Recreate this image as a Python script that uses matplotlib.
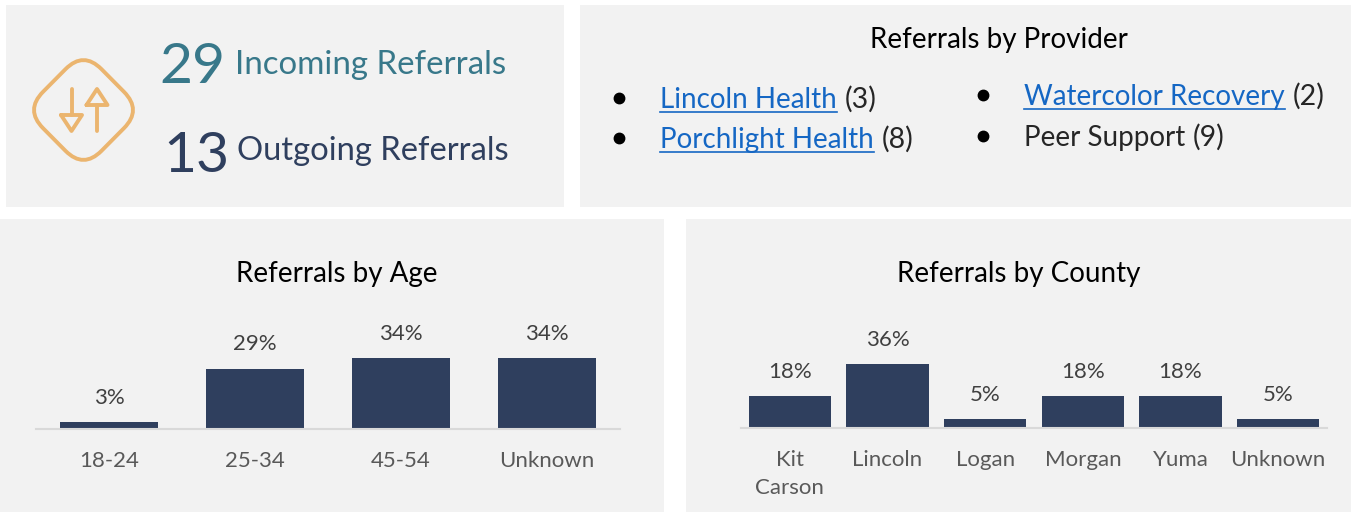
"""Referrals dashboard: KPI tiles, provider list and two percentage bar charts."""
import matplotlib
matplotlib.use("Agg")
import matplotlib.pyplot as plt
from matplotlib.patches import PathPatch, Rectangle
from matplotlib.path import Path

AGE_LABELS = ["18-24", "25-34", "45-54", "Unknown"]
AGE_VALUES = [3, 29, 34, 34]
COUNTY_LABELS = ["Kit\nCarson", "Lincoln", "Logan", "Morgan", "Yuma", "Unknown"]
COUNTY_VALUES = [18, 36, 5, 18, 18, 5]
INCOMING = 29
OUTGOING = 13
PROVIDERS = [("Lincoln Health", 3, True), ("Porchlight Health", 8, True),
             ("Watercolor Recovery", 2, True), ("Peer Support", 9, False)]

W, H = 1351, 512
PANEL = "#F2F2F2"
NAVY = "#2F3F5E"
TEAL = "#38788A"
GOLD = "#EBB56F"
LINK = "#1567C4"
INK = "#404040"
TICK = "#595959"
AXIS = "#D9D9D9"
FONT = "Lato"

plt.rcParams["font.family"] = [FONT, "DejaVu Sans"]


def bar_chart(fig, box, labels, values, width, px_per_pct):
    x0, x1, top, base = box
    ax = fig.add_axes([x0 / W, 1 - base / H, (x1 - x0) / W, (base - top) / H])
    ax.patch.set_visible(False)
    ax.bar(range(len(values)), values, width=width, color=NAVY)
    ax.set_xlim(-0.5, len(values) - 0.5)
    ax.set_ylim(0, (base - top) / px_per_pct)
    ax.set_xticks(range(len(values)), labels)
    ax.tick_params(axis="x", length=0, pad=16, labelsize=16, labelcolor=TICK)
    for label in ax.get_xticklabels():
        label.set_linespacing(1.5)
        label.set_va("top")
    ax.set_yticks([])
    for side in ("top", "left", "right"):
        ax.spines[side].set_visible(False)
    ax.spines["bottom"].set_color(AXIS)
    ax.spines["bottom"].set_linewidth(1.5)
    for i, v in enumerate(values):
        ax.annotate(f"{v}%", (i, v), xytext=(0, 17.5), textcoords="offset points",
                    ha="center", va="center", fontsize=16, color=INK)
    return ax


def draw_icon(ax):
    cx, cy, rx, ry, r = 83.5, 110, 58.5, 59, 18
    # rounded diamond, corners pulled in with quadratic curves
    frac = r / rx
    pts = [(cx, cy - ry), (cx + rx, cy), (cx, cy + ry), (cx - rx, cy)]
    verts, codes = [], []
    for i, p in enumerate(pts):
        prev, nxt = pts[i - 1], pts[(i + 1) % 4]
        a = (p[0] + (prev[0] - p[0]) * frac, p[1] + (prev[1] - p[1]) * frac)
        b = (p[0] + (nxt[0] - p[0]) * frac, p[1] + (nxt[1] - p[1]) * frac)
        verts += [a, p, b]
        codes += [Path.MOVETO if i == 0 else Path.LINETO, Path.CURVE3, Path.CURVE3]
    verts.append(verts[0])
    codes.append(Path.CLOSEPOLY)
    ax.add_patch(PathPatch(Path(verts, codes), fill=False, edgecolor=GOLD, linewidth=2.8))
    style = dict(color=GOLD, linewidth=2.8, solid_capstyle="round", solid_joinstyle="round")
    ax.plot([71.5, 71.5], [89, 115], **style)
    ax.plot([61, 82, 71.5, 61], [115, 115, 131, 115], **style)
    ax.plot([97, 97], [131, 105], **style)
    ax.plot([86.5, 107.5, 97, 86.5], [105, 105, 89, 105], **style)


def main():
    fig = plt.figure(figsize=(W / 100, H / 100), dpi=100, facecolor="white")
    ax = fig.add_axes([0, 0, 1, 1])
    ax.set_xlim(0, W)
    ax.set_ylim(H, 0)
    ax.axis("off")
    for x0, y0, x1, y1 in [(6, 5, 564, 207), (580, 5, W, 207), (0, 219, 664, 512), (686, 219, W, 512)]:
        ax.add_patch(Rectangle((x0, y0), x1 - x0, y1 - y0, facecolor=PANEL, edgecolor="none"))

    draw_icon(ax)
    ax.text(192, 83, str(INCOMING), fontsize=41, color=TEAL, ha="center", va="baseline")
    ax.text(235, 73.5, "Incoming Referrals", fontsize=23.8, color=TEAL, va="baseline")
    ax.text(196.5, 172, str(OUTGOING), fontsize=41, color=NAVY, ha="center", va="baseline")
    ax.text(237, 159.5, "Outgoing Referrals", fontsize=23.6, color=NAVY, va="baseline")

    ax.text(999, 48, "Referrals by Provider", fontsize=20, color="black", ha="center", va="baseline")
    ax.text(337, 282, "Referrals by Age", fontsize=20, color="black", ha="center", va="baseline")
    ax.text(1019, 282, "Referrals by County", fontsize=20, color="black", ha="center", va="baseline")

    fig.canvas.draw()
    renderer = fig.canvas.get_renderer()
    spots = [(619, 660, 108), (619, 660, 148), (983, 1024, 105), (983, 1024, 146)]
    for (name, count, linked), (bx, tx, by) in zip(PROVIDERS, spots):
        ax.plot([bx], [by - 10], "o", color="black", markersize=7.5)
        text = ax.text(tx, by, name, fontsize=20, va="baseline",
                       color=LINK if linked else "#262626")
        end = text.get_window_extent(renderer).x1
        if linked:
            ax.plot([tx, end], [by + 4, by + 4], color=LINK, linewidth=1.2)
        ax.text(end + 8, by, f"({count})", fontsize=20.5, color="#262626", va="baseline")

    bar_chart(fig, (36, 620, 300, 428.5), AGE_LABELS, AGE_VALUES, 0.67, 2.06)
    bar_chart(fig, (741, 1327, 300, 428), COUNTY_LABELS, COUNTY_VALUES, 0.84, 1.78)
    fig.savefig("out.png", dpi=100)
    plt.close(fig)


if __name__ == "__main__":
    main()
